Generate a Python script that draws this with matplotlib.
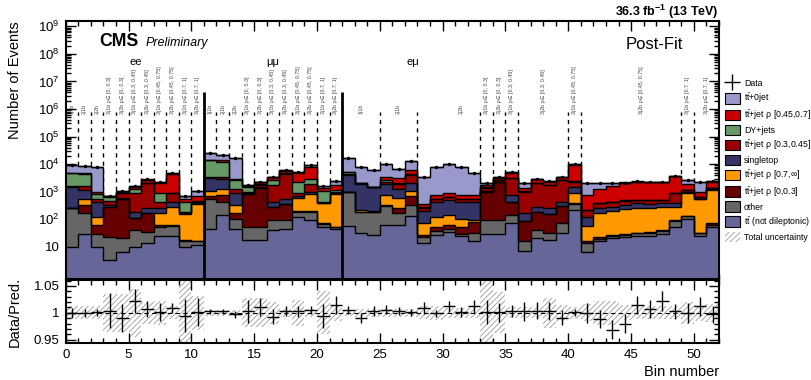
import numpy as np
import matplotlib
matplotlib.use("Agg")
import matplotlib.pyplot as plt
from matplotlib.patches import Patch
from matplotlib.lines import Line2D
from matplotlib.ticker import MultipleLocator, LogLocator, NullFormatter

plt.rcParams['font.family'] = ['Liberation Sans', 'DejaVu Sans']
plt.rcParams['mathtext.fontset'] = 'custom'
plt.rcParams['mathtext.rm'] = 'Liberation Sans'
plt.rcParams['mathtext.it'] = 'Liberation Sans:italic'
plt.rcParams['mathtext.bf'] = 'Liberation Sans:bold'
plt.rcParams['hatch.linewidth'] = 0.6

# ---- post-fit yields per bin (52 bins: ee 0-10, mumu 11-21, emu 22-51) ----
tt_nondilep = [10, 30, 10, 3.4, 6.8, 10, 14, 24, 26, 10, 12,
               45, 144, 44, 18, 18, 41, 44, 120, 95, 55, 44,
               58, 31, 27, 63, 63, 132, 13.6, 28, 35, 24, 17, 30, 30, 72,
               7.4, 21, 18, 33, 219, 6.8, 16, 21, 23, 24, 25, 30, 53, 106, 26, 52]
other = [242, 142, 20, 19, 15, 31, 22, 31, 32, 7, 4,
         485, 296, 56, 34, 34, 54, 51, 71, 96, 13, 7,
         900, 160, 164, 242, 112, 200, 10, 11, 9, 5, 14, 63, 65, 72,
         9.6, 20, 15, 39, 141, 6.8, 4, 5, 5, 7, 7, 9, 38, 24, 5, 11]
ttjet_rho_0_03 = [0, 160, 33, 267, 528, 68, 130, 8, 5, 1, 0.5,
                  190, 330, 66, 790, 1360, 194, 275, 14, 14, 4, 4,
                  0, 0, 0, 15, 77, 370, 3, 13, 17, 23, 52, 917, 2235, 296,
                  73, 150, 125, 233, 22, 2.4, 2.5, 1, 2, 2, 2, 2, 4, 2, 0.5, 9]
ttjet_rho_07_inf = [0, 200, 55, 0, 0, 0, 0, 103, 212, 142, 343,
                    370, 460, 167, 0, 0, 0, 0, 375, 625, 310, 775,
                    30, 28, 9, 425, 328, 350, 45, 74, 79, 52, 12, 0, 0, 0,
                    0, 0, 0, 0, 498, 42, 152, 173, 202, 219, 218, 248, 194, 788, 500, 1090]
singletop = [1280, 630, 300, 44, 30, 82, 86, 86, 140, 15, 22,
             1990, 1570, 600, 40, 70, 150, 165, 130, 130, 23, 50,
             3070, 1680, 1250, 1135, 650, 1100, 133, 314, 365, 336, 320, 90, 30, 326,
             85, 98, 94, 135, 650, 60, 77, 89, 101, 130, 108, 93, 93, 50, 30, 70]
ttjet_rho_03_045 = [120, 510, 115, 127, 300, 740, 1780, 188, 465, 16, 33,
                    220, 730, 300, 130, 280, 1320, 3715, 170, 890, 35, 130,
                    240, 130, 80, 450, 670, 1910, 60, 90, 125, 105, 115, 300, 320, 2310,
                    835, 1820, 1510, 2160, 800, 92, 130, 150, 147, 123, 145, 123, 500, 190, 90, 110]
dy_jets = [3020, 2630, 310, 206, 50, 300, 100, 490, 50, 219, 65,
           10900, 8870, 1370, 440, 90, 840, 420, 1450, 1050, 660, 150,
           1060, 50, 20, 270, 130, 190, 5, 10, 10, 10, 10, 50, 30, 50,
           20, 30, 40, 40, 40, 5, 5, 5, 5, 5, 5, 5, 10, 10, 10, 20]
ttjet_rho_045_07 = [80, 500, 170, 24, 80, 220, 550, 1100, 3320, 120, 220,
                    600, 1800, 300, 200, 350, 750, 1030, 2570, 5250, 310, 600,
                    0, 50, 0, 930, 1050, 1920, 80, 200, 240, 185, 200, 310, 520, 1770,
                    310, 660, 530, 660, 6630, 550, 840, 1200, 1540, 1690, 1740, 1690, 2740, 730, 300, 970]
tt_0jet = [4600, 3900, 6740, 10, 80, 150, 100, 170, 420, 170, 390,
           10000, 7300, 13400, 110, 130, 180, 470, 250, 1200, 190, 720,
           10900, 6020, 4810, 6470, 3420, 6930, 3050, 7200, 9100, 7400, 4160, 240, 170, 250,
           810, 100, 70, 100, 800, 1260, 900, 480, 170, 130, 80, 50, 70, 700, 1370, 150]

# ---- ratio panel ----
ratio = [1.000, 1.000, 1.001, 1.004, 0.991, 1.022, 1.007, 1.002, 1.009, 0.995, 1.001,
         1.0025, 1.003, 0.997, 1.003, 1.011, 0.993, 1.003, 1.003, 1.005, 0.994, 1.014,
         1.005, 0.991, 1.003, 1.006, 1.003, 1.001, 1.009, 0.999, 1.012, 1.001, 1.012, 1.001, 1.001, 1.004,
         1.003, 1.004, 1.003, 0.991, 1.001, 1.000, 0.989, 0.969, 0.980, 1.014, 1.007, 1.022, 1.003, 1.000, 1.012, 0.997]
ratio_err = [0.009, 0.007, 0.007, 0.032, 0.026, 0.022, 0.015, 0.017, 0.010, 0.031, 0.026,
             0.005, 0.005, 0.006, 0.021, 0.017, 0.014, 0.009, 0.010, 0.007, 0.022, 0.017,
             0.007, 0.009, 0.009, 0.009, 0.007, 0.007, 0.012, 0.007, 0.010, 0.009, 0.012, 0.022, 0.018, 0.011,
             0.018, 0.016, 0.017, 0.014, 0.007, 0.018, 0.017, 0.017, 0.017, 0.017, 0.017, 0.019, 0.014, 0.018, 0.017, 0.016]
total_unc = [0.012, 0.012, 0.012, 0.035, 0.035, 0.045, 0.020, 0.022, 0.012, 0.080, 0.031,
             0.006, 0.006, 0.006, 0.027, 0.027, 0.020, 0.008, 0.024, 0.008, 0.040, 0.015,
             0.006, 0.008, 0.008, 0.008, 0.008, 0.008, 0.012, 0.013, 0.009, 0.009, 0.009, 0.080, 0.038, 0.010,
             0.010, 0.010, 0.028, 0.015, 0.011, 0.016, 0.022, 0.022, 0.014, 0.012, 0.012, 0.012, 0.012, 0.020, 0.015, 0.017]

# ---- category labels ----
ll_cats = ["1j1b", "2j1b", "2j2b", "3j1b ρ∈ [0, 0.3]", "3j2b ρ∈ [0, 0.3]",
           "3j1b ρ∈ [0.3, 0.45]", "3j2b ρ∈ [0.3, 0.45]", "3j1b ρ∈ [0.45, 0.75]",
           "3j2b ρ∈ [0.45, 0.75]", "3j1b ρ∈ [0.7, 1]", "3j2b ρ∈ [0.7, 1]"]
emu_cat_pos = [23.5, 26.5, 31.5, 33.5, 34.5, 35.5, 38.0, 40.5, 45.8, 49.5, 51.0]
emu_dashes = [25, 28, 33, 34, 35, 36, 40, 41, 49, 50]

edges = np.arange(53)
centers = edges[:-1] + 0.5

ttbar = r'$\mathrm{t\bar{t}}$'
stack = [
    (tt_nondilep, '#666699', ttbar + ' (not dileptonic)'),
    (other, '#666666', 'other'),
    (ttjet_rho_0_03, '#660000', ttbar + '+jet ρ [0,0.3]'),
    (ttjet_rho_07_inf, '#FF9900', ttbar + '+jet ρ [0.7,∞]'),
    (singletop, '#333366', 'singletop'),
    (ttjet_rho_03_045, '#990000', ttbar + '+jet ρ [0.3,0.45]'),
    (dy_jets, '#669966', 'DY+jets'),
    (ttjet_rho_045_07, '#CC0000', ttbar + '+jet ρ [0.45,0.7]'),
    (tt_0jet, '#9999CC', ttbar + '+0jet'),
]

fig = plt.figure(figsize=(8.12, 3.8), dpi=100)
ax = fig.add_axes([0.0809, 0.2658, 0.8046, 0.6789])
rax = fig.add_axes([0.0809, 0.0974, 0.8046, 0.1658])

bottom = np.full(52, 1e-3)
for vals, col, lab in stack:
    top = bottom + np.array(vals, dtype=float)
    ax.stairs(top, edges, baseline=bottom, fill=True, facecolor=col, edgecolor='none', lw=0, zorder=2)
    ax.stairs(top, edges, baseline=None, color='black', lw=1.0, zorder=3)
    bottom = top
total = bottom

ratio = np.array(ratio)
ratio_err = np.array(ratio_err)
total_unc = np.array(total_unc)

# data on main panel
ax.errorbar(centers, total * ratio, yerr=total * ratio_err, xerr=0.5, fmt='o', ms=1.5,
            color='black', ecolor='black', elinewidth=1, zorder=5)

# separators
ll_dashes = list(range(1, 11)) + list(range(12, 22))
ax.vlines(ll_dashes + emu_dashes, 1e-3, 8e5, colors='black', linestyles=(0, (3, 3)), lw=1, zorder=1)
ax.vlines([11, 22], 1e-3, 4e6, colors='black', lw=2, zorder=4)

for i, lab in enumerate(ll_cats):
    for off in (0, 11):
        ax.text(i + 0.5 + off, 6.6e5, lab, rotation=90, ha='center', va='bottom',
                fontsize=3.8, color='#444444')
for x, lab in zip(emu_cat_pos, ll_cats):
    ax.text(x, 6.6e5, lab, rotation=90, ha='center', va='bottom', fontsize=3.8, color='#444444')

ax.text(5.6, 5e7, 'ee', ha='center', va='center', fontsize=8)
ax.text(16.5, 5e7, 'μμ', ha='center', va='center', fontsize=8)
ax.text(27.6, 5e7, 'eμ', ha='center', va='center', fontsize=8)

ax.set_yscale('log')
ax.set_ylim(0.69, 1.55e9)
ax.set_xlim(0, 52)
ax.set_yticks([10.0 ** k for k in range(0, 10)])
ax.set_yticklabels([''] + ['10'] + [r'$10^{%d}$' % k for k in range(2, 10)])
ax.yaxis.set_minor_locator(LogLocator(base=10, subs=np.arange(2, 10), numticks=20))
ax.yaxis.set_minor_formatter(NullFormatter())
ax.tick_params(labelbottom=False)

# ratio panel
rax.stairs(1 + total_unc, edges, baseline=1 - total_unc, fill=True, facecolor='none',
           edgecolor='#9a9a9a', hatch='//////', lw=0, zorder=1)
rax.axhline(1, color='black', ls=(0, (4, 3)), lw=0.8, zorder=2)
rax.errorbar(centers, ratio, yerr=ratio_err, xerr=0.5, fmt='none', ecolor='black',
             elinewidth=1, zorder=3)
rax.set_xlim(0, 52)
rax.set_ylim(0.944, 1.061)
rax.set_yticks([0.95, 1.0, 1.05])
rax.set_yticklabels(['0.95', '1', '1.05'])
rax.yaxis.set_minor_locator(MultipleLocator(0.01))

for a in (ax, rax):
    a.xaxis.set_major_locator(MultipleLocator(5))
    a.xaxis.set_minor_locator(MultipleLocator(1))
    a.tick_params(which='both', direction='in', top=True, right=True, labelsize=9.5, pad=4.5)
    a.tick_params(which='major', length=7, width=1)
    a.tick_params(which='minor', length=3.5, width=1)
    for s in a.spines.values():
        s.set_linewidth(1.5)

# titles and labels
fig.text(15 / 812, 1 - 21 / 380, 'Number of Events', rotation=90, ha='center', va='top', fontsize=10.5)
fig.text(15 / 812, 1 - 312 / 380, 'Data/Pred.', rotation=90, ha='center', va='center', fontsize=10.5)
fig.text(719 / 812, 1 - 372 / 380, 'Bin number', ha='right', va='center', fontsize=10.5)
fig.text(99 / 812, 1 - 42 / 380, 'CMS', fontsize=12.7, fontweight='bold', ha='left', va='center')
fig.text(146 / 812, 1 - 43 / 380, 'Preliminary', fontsize=9, style='italic', ha='left', va='center')
fig.text(683 / 812, 1 - 44.5 / 380, 'Post-Fit', fontsize=12, ha='right', va='center')
fig.text(719 / 812, 1 - 12 / 380, r'36.3 fb$^{\mathbf{-1}}$ (13 TeV)', fontsize=9, fontweight='bold',
         ha='right', va='center')

# legend
handles = [Line2D([], [], color='black', marker='+', markersize=11, mew=1, linestyle='none')]
labels = ['Data']
for vals, col, lab in stack[::-1]:
    handles.append(Patch(facecolor=col, edgecolor='black', lw=0.8))
    labels.append(lab)
handles.append(Patch(facecolor='none', edgecolor='#9a9a9a', hatch='//////', lw=0))
labels.append('Total uncertainty')
fig.legend(handles, labels, loc='upper left', bbox_to_anchor=(725 / 812, 1 - 78 / 380),
           frameon=False, fontsize=6.3, handlelength=1.7, handleheight=1.5,
           labelspacing=0.33, handletextpad=0.45, borderaxespad=0, borderpad=0)

fig.savefig('out.png', dpi=100)
